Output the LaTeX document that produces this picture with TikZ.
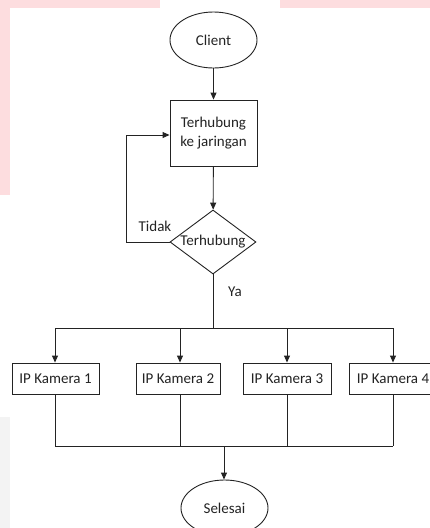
\documentclass[tikz,border=0pt]{standalone}
\usepackage{fontspec}
\setmainfont{Carlito}
\usetikzlibrary{shapes.geometric,arrows.meta}
\definecolor{wmpink}{RGB}{253,221,223}
\definecolor{wmgray}{RGB}{243,243,243}
\definecolor{ink}{RGB}{35,35,35}
\begin{document}
\begin{tikzpicture}[x=1pt,y=-1pt,
  every node/.style={font=\fontsize{15}{18}\selectfont, text=ink},
  line/.style={draw=ink, line width=0.9pt},
  arr/.style={line, -{Triangle[length=7pt,width=6pt]}},
  term/.style={ellipse, line, minimum width=87pt, minimum height=56pt, inner sep=0pt},
  proc/.style={rectangle, line, inner sep=0pt, fill=white},
  decide/.style={diamond, line, minimum width=86pt, minimum height=64pt, inner sep=0pt}]
\useasboundingbox (0,0) rectangle (430,528);
% background watermark bands
\fill[wmpink] (0,0) rectangle (160,8);
\fill[wmpink] (280,0) rectangle (430,8);
\fill[wmpink] (0,0) rectangle (10,195);
\fill[wmgray] (0,417) rectangle (10,528);
% nodes
\node[term] (client) at (213.5,40) {Client};
\node[proc, minimum width=87pt, minimum height=66pt, align=center] (conn) at (213.5,133) {Terhubung\\[1pt]ke jaringan};
\node[decide] (dec) at (213,242) {};
\node at (dec.center) {Terhubung};
\node[proc, minimum width=87pt, minimum height=31pt] (k1) at (55.5,378.5) {IP Kamera 1};
\node[proc, minimum width=84pt, minimum height=31pt] (k2) at (178,378.5) {IP Kamera 2};
\node[proc, minimum width=88pt, minimum height=31pt] (k3) at (287,378.5) {IP Kamera 3};
\node[proc, minimum width=87pt, minimum height=31pt] (k4) at (393,378.5) {IP Kamera 4};
\node[term] (end) at (224.5,508) {Selesai};
% labels
\node (tidak) at (155,226) {Tidak};
\node (ya) at (235,292) {Ya};
% coordinates
\coordinate (loopL) at (126,242);
\coordinate (loopT) at (126,135);
\coordinate (busT) at (213,328);
\coordinate (t1) at (55,328);
\coordinate (t2) at (180,328);
\coordinate (t3) at (287,328);
\coordinate (t4) at (393,328);
\coordinate (u1) at (55,446);
\coordinate (u2) at (180,446);
\coordinate (u3) at (287,446);
\coordinate (u4) at (393,446);
\coordinate (busB) at (224,446);
% connectors
\draw[arr] (client) -- (conn);
\draw[arr] (conn) -- (dec);
\draw[arr] (dec.west) -- (loopL) -- (loopT) -- (loopT -| conn.west);
\draw[line] (dec.south) -- (busT);
\draw[line] (t1) -- (t4);
\draw[arr] (t1) -- (t1 |- k1.north);
\draw[arr] (t2) -- (t2 |- k2.north);
\draw[arr] (t3) -- (t3 |- k3.north);
\draw[arr] (t4) -- (t4 |- k4.north);
\draw[line] (u1 |- k1.south) -- (u1);
\draw[line] (u2 |- k2.south) -- (u2);
\draw[line] (u3 |- k3.south) -- (u3);
\draw[line] (u4 |- k4.south) -- (u4);
\draw[line] (u1) -- (u4);
\draw[arr] (busB) -- (busB |- end.north);
\end{tikzpicture}
\end{document}
